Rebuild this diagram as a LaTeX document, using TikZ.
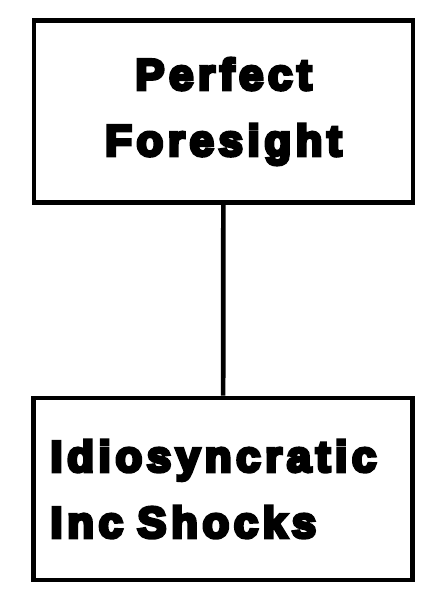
\documentclass[tikz,border=0pt]{standalone}
\usepackage{fontspec}
\setmainfont{Liberation Sans}
\newfontfamily\boxfont{Liberation Sans Bold}[LetterSpace=11, FakeBold=8]
\begin{document}
\begin{tikzpicture}[x=1pt,y=1pt,
						modelnode/.style={rectangle, draw=black, line width=4.7pt, minimum width=379pt, minimum height=182pt, inner sep=0pt, font=\boxfont\fontsize{43.5}{66}\selectfont},
						]
						\useasboundingbox (0,0) rectangle (444,-599);
						%Nodes
						\node[modelnode, align=center]  (pf) 	at	(223.5,-111.5)	{Perfect\\Foresight};
						\node[modelnode, align=left, text width=345pt]    (ish) 	at	(223,-489)	{Idiosyncratic\\Inc Shocks};
						
						\draw[line width=4.7pt] (pf) -- (ish);
\end{tikzpicture}
\end{document}
